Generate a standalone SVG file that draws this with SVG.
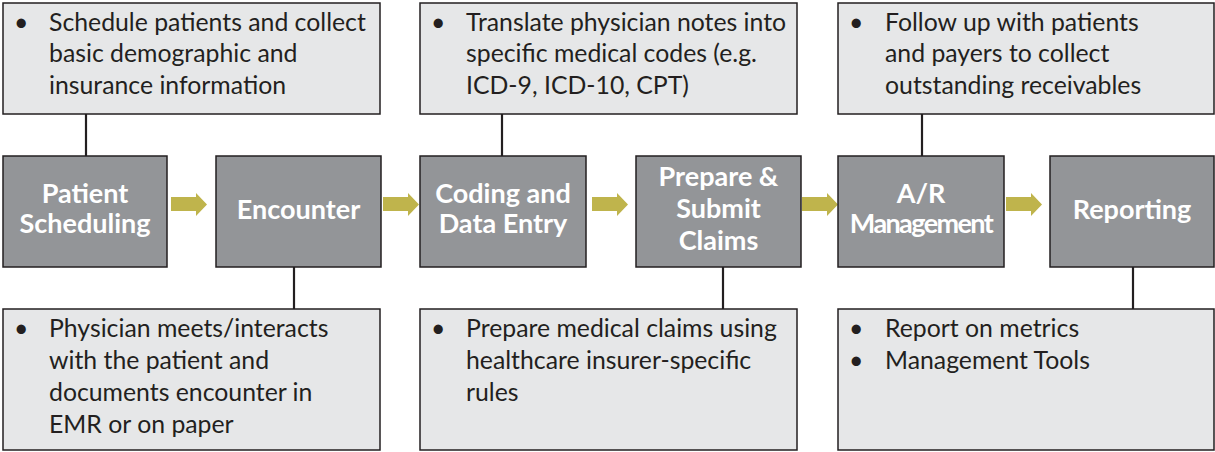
<svg xmlns="http://www.w3.org/2000/svg" width="1215" height="452" viewBox="0 0 1215 452">
<style>
.note{fill:#E6E7E8;stroke:#231F20;stroke-width:1.5}
.node{fill:#939598;stroke:#231F20;stroke-width:1.5}
.nt{font-family:Lato,"Open Sans",sans-serif;font-weight:bold;font-size:27px;fill:#FFFFFF;text-anchor:middle}
.bt{font-family:Lato,"Open Sans",sans-serif;font-size:24.8px;fill:#231F20}
.ln{stroke:#231F20;stroke-width:2.2;fill:none}
.ar{fill:#BFB44C}
</style>
<defs>
<polygon id="arrow" class="ar" points="0,197 25,197 25,193 36,204.5 25,216 25,211 0,211"/>
</defs>
<rect width="1215" height="452" fill="#FFFFFF"/>

<g id="connectors">
<line class="ln" x1="86" y1="114" x2="86" y2="156"/>
<line class="ln" x1="502" y1="114" x2="502" y2="156"/>
<line class="ln" x1="922" y1="114" x2="922" y2="156"/>
<line class="ln" x1="294" y1="267" x2="294" y2="309"/>
<line class="ln" x1="723" y1="267" x2="723" y2="309"/>
<line class="ln" x1="1133" y1="267" x2="1133" y2="309"/>
<use href="#arrow" x="171"/>
<use href="#arrow" x="383"/>
<use href="#arrow" x="592"/>
<use href="#arrow" x="802"/>
<use href="#arrow" x="1006"/>
</g>

<g id="note-scheduling">
<rect class="note" x="3" y="3" width="377" height="111"/>
<text class="bt" x="14" y="31">•</text>
<text class="bt" x="49" y="31">Schedule patients and collect</text>
<text class="bt" x="49" y="62">basic demographic and</text>
<text class="bt" x="49" y="94">insurance information</text>
</g>

<g id="note-coding">
<rect class="note" x="420" y="3" width="377" height="111"/>
<text class="bt" x="431" y="31">•</text>
<text class="bt" x="466" y="31">Translate physician notes into</text>
<text class="bt" x="466" y="62">specific medical codes (e.g.</text>
<text class="bt" x="466" y="94">ICD-9, ICD-10, CPT)</text>
</g>

<g id="note-ar">
<rect class="note" x="838" y="3" width="376" height="111"/>
<text class="bt" x="849" y="31">•</text>
<text class="bt" x="885" y="31">Follow up with patients</text>
<text class="bt" x="885" y="62">and payers to collect</text>
<text class="bt" x="885" y="94">outstanding receivables</text>
</g>

<g id="node-patient-scheduling">
<rect class="node" x="3" y="156" width="164" height="111"/>
<text class="nt" x="85" y="203">Patient</text>
<text class="nt" x="85" y="233">Scheduling</text>
</g>

<g id="node-encounter">
<rect class="node" x="216" y="156" width="165" height="111"/>
<text class="nt" x="298.5" y="219">Encounter</text>
</g>

<g id="node-coding">
<rect class="node" x="420" y="156" width="166" height="111"/>
<text class="nt" x="503" y="203">Coding and</text>
<text class="nt" x="503" y="233">Data Entry</text>
</g>

<g id="node-claims">
<rect class="node" x="636" y="156" width="165" height="111"/>
<text class="nt" x="718.5" y="186">Prepare &amp;</text>
<text class="nt" x="718.5" y="218">Submit</text>
<text class="nt" x="718.5" y="250">Claims</text>
</g>

<g id="node-ar">
<rect class="node" x="838" y="156" width="166" height="111"/>
<text class="nt" x="921" y="203">A/R</text>
<text class="nt" x="921" y="233" style="letter-spacing:-1.6px">Management</text>
</g>

<g id="node-reporting">
<rect class="node" x="1050" y="156" width="164" height="111"/>
<text class="nt" x="1132" y="219">Reporting</text>
</g>

<g id="note-encounter">
<rect class="note" x="3" y="309" width="377" height="141"/>
<text class="bt" x="14" y="337">•</text>
<text class="bt" x="49" y="337">Physician meets/interacts</text>
<text class="bt" x="49" y="369">with the patient and</text>
<text class="bt" x="49" y="401">documents encounter in</text>
<text class="bt" x="49" y="433">EMR or on paper</text>
</g>

<g id="note-claims">
<rect class="note" x="420" y="309" width="377" height="141"/>
<text class="bt" x="431" y="337">•</text>
<text class="bt" x="466" y="337">Prepare medical claims using</text>
<text class="bt" x="466" y="369">healthcare insurer-specific</text>
<text class="bt" x="466" y="401">rules</text>
</g>

<g id="note-reporting">
<rect class="note" x="838" y="309" width="376" height="141"/>
<text class="bt" x="849" y="337">•</text>
<text class="bt" x="885" y="337">Report on metrics</text>
<text class="bt" x="849" y="369">•</text>
<text class="bt" x="885" y="369">Management Tools</text>
</g>
</svg>
